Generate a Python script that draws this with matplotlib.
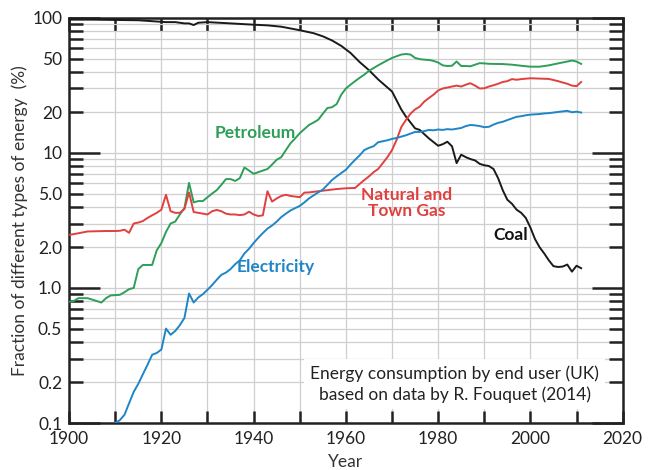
import matplotlib
matplotlib.use("Agg")
import matplotlib.pyplot as plt
import numpy as np

plt.rcParams["font.family"] = ["Lato", "DejaVu Sans"]

# values (share of UK end-user energy, %)
coal_years = [1900, 1905, 1910, 1915, 1919, 1921, 1923, 1925, 1926, 1927, 1928, 1930,
              1935, 1940, 1943, 1946, 1950, 1953, 1955, 1957, 1959, 1961, 1963, 1965,
              1967, 1970, 1972, 1973, 1975, 1976, 1978, 1980, 1981, 1982, 1983, 1984,
              1985, 1986, 1987, 1988, 1989, 1990, 1991, 1992, 1993, 1994, 1995, 1996,
              1997, 1998, 1999, 2000, 2001, 2002, 2003, 2004, 2005, 2006, 2007, 2008,
              2009, 2010, 2011]
coal = [97, 97, 96.5, 96, 94, 93, 93, 91, 91, 88.5, 92, 93,
        91, 89, 88, 86, 81, 77, 73, 68, 62, 55, 47, 41,
        35, 28.5, 21, 18.6, 15.2, 14.8, 12.8, 11.3, 11.6, 12.1, 11.2, 8.4,
        9.7, 9.3, 9.0, 8.8, 8.3, 8.1, 8.0, 7.6, 6.5, 5.3, 4.5, 4.2,
        3.8, 3.6, 3.3, 2.8, 2.3, 2.0, 1.8, 1.6, 1.45, 1.43, 1.44, 1.49,
        1.32, 1.46, 1.40]

petrol_years = [1900, 1901, 1902, 1904, 1905, 1907, 1908, 1909, 1911, 1912, 1913, 1914,
                1915, 1916, 1918, 1919, 1920, 1921, 1922, 1923, 1924, 1925, 1926, 1927,
                1928, 1929, 1930, 1931, 1932, 1933, 1934, 1935, 1936, 1937, 1938, 1939,
                1940, 1941, 1942, 1943, 1944, 1945, 1946, 1947, 1948, 1949, 1950, 1951,
                1952, 1953, 1954, 1955, 1956, 1957, 1958, 1959, 1960, 1961, 1962, 1963,
                1964, 1965, 1966, 1967, 1968, 1969, 1970, 1971, 1972, 1973, 1974, 1975,
                1976, 1977, 1978, 1979, 1980, 1981, 1982, 1983, 1984, 1985, 1986, 1987,
                1988, 1989, 1990, 1991, 1992, 1994, 1996, 1998, 2000, 2002, 2004, 2006,
                2008, 2009, 2010, 2011]
petroleum = [0.79, 0.80, 0.84, 0.84, 0.82, 0.78, 0.84, 0.88, 0.89, 0.93, 0.98, 1.0,
             1.38, 1.48, 1.48, 1.9, 2.15, 2.6, 3.0, 3.1, 3.5, 3.9, 6.0, 4.3,
             4.4, 4.4, 4.7, 5.0, 5.3, 5.8, 6.4, 6.4, 6.2, 6.5, 7.8, 7.4,
             7.0, 7.2, 7.4, 7.6, 8.2, 8.9, 9.3, 10.5, 11.8, 12.8, 14.0, 15.0,
             16.1, 16.8, 17.6, 19.5, 21.5, 21.8, 23, 27, 30, 32, 34, 36,
             38, 40.5, 42.5, 44.5, 46.5, 48.5, 50.5, 52, 53.5, 54, 53.5, 50.5,
             49.5, 49, 48.8, 48, 46.7, 44.5, 44, 44.2, 47.5, 44, 44, 43.8,
             45, 46.2, 46, 45.7, 45.6, 45.5, 45, 44.2, 43.5, 43.5, 44.5, 46,
             47.5, 48.3, 47.5, 45.6]

gas_years = [1900, 1902, 1904, 1906, 1908, 1910, 1911, 1912, 1913, 1914, 1915, 1916,
             1917, 1918, 1919, 1920, 1921, 1922, 1923, 1924, 1925, 1926, 1927, 1928,
             1929, 1930, 1931, 1932, 1933, 1934, 1935, 1936, 1937, 1938, 1939, 1940,
             1941, 1942, 1943, 1944, 1945, 1946, 1947, 1948, 1949, 1950, 1951, 1952,
             1954, 1956, 1958, 1960, 1962, 1963, 1964, 1965, 1966, 1967, 1968, 1969,
             1970, 1971, 1972, 1973, 1974, 1975, 1976, 1977, 1978, 1979, 1980, 1981,
             1982, 1983, 1984, 1985, 1986, 1987, 1988, 1989, 1990, 1991, 1992, 1993,
             1994, 1995, 1996, 1997, 1998, 2000, 2002, 2004, 2006, 2007, 2008, 2009,
             2010, 2011]
gas = [2.47, 2.54, 2.62, 2.63, 2.64, 2.64, 2.65, 2.7, 2.56, 3.0, 3.05, 3.13,
       3.3, 3.45, 3.6, 3.8, 4.9, 3.7, 3.6, 3.6, 3.85, 5.1, 3.65, 3.6,
       3.55, 3.5, 3.7, 3.78, 3.7, 3.55, 3.5, 3.5, 3.46, 3.5, 3.67, 3.5,
       3.41, 3.45, 5.2, 4.36, 4.6, 4.8, 4.9, 4.8, 4.75, 4.7, 5.08, 5.1,
       5.2, 5.3, 5.4, 5.47, 5.5, 5.9, 6.3, 6.7, 7.2, 7.6, 8.4, 9.3,
       10.5, 12.5, 15.5, 17.5, 19.5, 21, 22, 24, 25.5, 27, 29, 30,
       30.5, 31, 31.5, 31, 32, 32.8, 31.5, 30, 30.1, 31, 31.7, 32.5,
       33.5, 34, 35.2, 34.8, 35.2, 35.7, 35.5, 35.3, 34, 33.2, 32.5, 31.5,
       31.2, 33.5]

elec_years = list(range(1910, 2012))
electricity = [0.1, 0.105, 0.115, 0.14, 0.17, 0.195, 0.23, 0.27, 0.32, 0.33,
               0.35, 0.5, 0.45, 0.48, 0.53, 0.6, 0.91, 0.78, 0.85, 0.9,
               0.97, 1.05, 1.15, 1.25, 1.3, 1.38, 1.5, 1.6, 1.8, 1.95,
               2.15, 2.35, 2.55, 2.75, 2.9, 3.1, 3.35, 3.55, 3.75, 3.9,
               4.05, 4.3, 4.6, 4.85, 5.1, 5.35, 5.8, 6.3, 6.7, 7.1,
               7.5, 8.2, 8.9, 9.6, 10.5, 10.9, 11.2, 12.0, 12.2, 12.4,
               12.7, 12.9, 13.2, 13.5, 13.9, 14.3, 14.3, 14.5, 14.8, 14.7,
               14.9, 14.8, 15.0, 14.9, 15.1, 15.3, 15.8, 16.1, 16.0, 15.8,
               15.5, 15.6, 16.2, 16.7, 17.0, 17.5, 18.0, 18.5, 18.7, 19.0,
               19.2, 19.3, 19.4, 19.6, 19.7, 19.9, 20.1, 20.3, 20.5, 20.0,
               20.2, 19.9]

decades = [0.1, 1, 10, 100]
decade_labels = ["0.1", "1.0", "10", "100"]
minor_vals = [m * d for d in [0.1, 1, 10] for m in range(2, 10)]
minor_labels = {0.2: "0.2", 0.5: "0.5", 2: "2.0", 5: "5.0", 20: "20", 50: "50"}

green = "#2e9e58"
red = "#e0403f"
blue = "#1f86c6"
fs = 12.5

fig = plt.figure(figsize=(6.52, 4.70), dpi=100)
ax = fig.add_axes([0.106, 0.100, 0.849, 0.862])

ax.plot(coal_years, coal, color="#1a1a1a", lw=1.4, zorder=3)
ax.plot(petrol_years, petroleum, color=green, lw=1.4, zorder=3)
ax.plot(gas_years, gas, color=red, lw=1.4, zorder=3)
ax.plot(elec_years, electricity, color=blue, lw=1.4, zorder=3)

ax.set_yscale("log")
ax.set_xlim(1900, 2020)
ax.set_ylim(0.1, 100)
ax.set_xticks(range(1900, 2021, 20))
ax.set_xticks(range(1910, 2020, 20), minor=True)
ax.set_yticks(decades)
ax.set_yticklabels(decade_labels)
ax.set_yticks(minor_vals, minor=True)
ax.set_yticklabels([minor_labels.get(round(v, 3), "") for v in minor_vals], minor=True)

ax.tick_params(axis="y", which="major", direction="in", length=22, width=1.8,
               right=True, labelsize=fs, pad=5, colors="#222222")
ax.tick_params(axis="y", which="minor", direction="in", length=10, width=1.8,
               right=True, labelsize=fs, pad=5, colors="#222222")
ax.tick_params(axis="x", which="both", direction="in", length=9, width=1.8,
               top=True, labelsize=fs, pad=6, colors="#222222")

ax.grid(True, which="both", axis="both", color="#cfcfcf", lw=0.9, zorder=0)
for s in ax.spines.values():
    s.set_linewidth(1.8)
    s.set_color("#222222")

ax.set_xlabel("Year", fontsize=fs, labelpad=5, color="#333333")
ax.set_ylabel("Fraction of different types of energy  (%)", fontsize=fs,
              labelpad=3, color="#333333")

ax.text(1940.4, 14.1, "Petroleum", color=green, fontsize=fs, fontweight="bold",
        ha="center", va="center")
ax.text(1973.2, 4.27, "Natural and\nTown Gas", color=red, fontsize=fs,
        fontweight="bold", ha="center", va="center", linespacing=1.0)
ax.text(1995.7, 2.47, "Coal", color="#111111", fontsize=fs, fontweight="bold",
        ha="center", va="center")
ax.text(1944.8, 1.43, "Electricity", color=blue, fontsize=fs, fontweight="bold",
        ha="center", va="center")

ax.text(0.697, 0.096, "Energy consumption by end user (UK)\nbased on data by R. Fouquet (2014)",
        transform=ax.transAxes, fontsize=fs, ha="center", va="center", color="#222222",
        linespacing=1.35, zorder=4,
        bbox=dict(facecolor="white", edgecolor="none", boxstyle="square,pad=0.35"))

fig.savefig("out.png", dpi=100)
